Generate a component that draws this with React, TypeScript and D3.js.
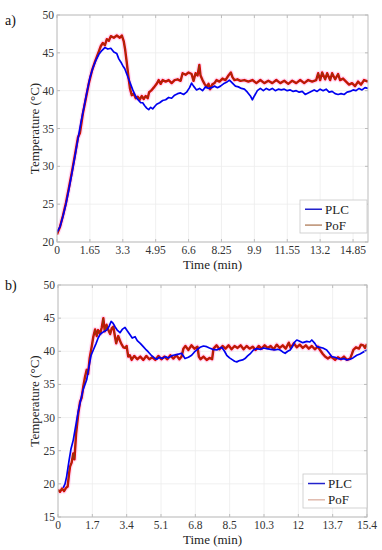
import React from "react";
import * as d3 from "d3";

type P = [number, number];

// Panel a) data (time in min, temperature in °C)
const plcA: P[] = [[0,21.3],[0.15,22.0],[0.3,23.4],[0.45,25.0],[0.6,27.0],[0.75,29.1],[0.9,31.3],[1.05,33.6],[1.2,35.8],[1.35,37.8],[1.5,39.8],[1.65,41.7],[1.8,43.0],[1.95,44.0],[2.1,44.8],[2.25,45.3],[2.4,45.7],[2.55,45.5],[2.7,45.6],[2.85,45.1],[3.0,44.9],[3.1,44.2],[3.2,43.8],[3.3,43.3],[3.4,42.9],[3.5,42.2],[3.6,41.5],[3.7,40.8],[3.8,40.1],[3.9,39.5],[4.0,39.0],[4.1,38.7],[4.2,38.4],[4.3,38.4],[4.4,38.0],[4.5,37.7],[4.6,37.5],[4.7,37.8],[4.8,37.6],[4.9,37.9],[5.0,38.2],[5.15,38.4],[5.3,38.7],[5.45,38.8],[5.6,39.1],[5.75,39.0],[5.9,39.4],[6.05,39.6],[6.2,39.7],[6.35,39.5],[6.5,39.8],[6.65,40.4],[6.75,41.0],[6.85,40.6],[7.0,40.1],[7.15,40.3],[7.3,40.0],[7.45,40.5],[7.6,40.3],[7.75,40.4],[7.9,40.6],[8.05,40.4],[8.2,40.6],[8.35,40.9],[8.5,41.1],[8.65,41.4],[8.8,41.0],[8.95,40.6],[9.1,40.5],[9.25,40.3],[9.4,40.2],[9.55,39.8],[9.7,39.3],[9.8,38.8],[9.9,39.3],[10.05,40.0],[10.2,40.3],[10.35,40.0],[10.5,40.3],[10.65,40.1],[10.8,40.3],[10.95,40.0],[11.1,40.2],[11.25,40.1],[11.4,40.2],[11.55,40.0],[11.7,40.1],[11.85,39.9],[12.0,40.0],[12.15,39.8],[12.3,39.9],[12.45,39.5],[12.6,39.7],[12.75,39.9],[12.9,40.1],[13.05,39.9],[13.2,40.2],[13.35,40.0],[13.5,40.2],[13.65,39.8],[13.8,39.9],[13.95,39.6],[14.1,39.5],[14.25,39.6],[14.4,39.5],[14.55,39.8],[14.7,39.9],[14.85,40.1],[15.0,40.0],[15.15,40.3],[15.3,40.1],[15.45,40.4],[15.6,40.3]];

const pofA: P[] = [[0,21.0],[0.15,22.0],[0.3,23.5],[0.45,25.2],[0.6,27.2],[0.75,29.3],[0.9,31.5],[1.05,33.8],[1.15,34.4],[1.3,37.0],[1.45,39.0],[1.6,41.0],[1.75,42.6],[1.9,43.8],[2.0,44.5],[2.1,45.2],[2.2,45.9],[2.3,46.3],[2.4,46.0],[2.5,46.8],[2.6,46.6],[2.7,47.2],[2.85,47.0],[3.0,47.3],[3.15,47.0],[3.25,47.3],[3.35,46.5],[3.42,45.4],[3.5,43.7],[3.58,41.9],[3.66,40.3],[3.75,39.4],[3.85,39.6],[3.95,39.0],[4.05,39.2],[4.15,38.8],[4.25,39.3],[4.35,38.9],[4.45,39.3],[4.55,39.0],[4.62,39.8],[4.72,40.0],[4.85,40.4],[5.0,40.9],[5.1,41.4],[5.2,40.9],[5.3,41.4],[5.45,41.2],[5.6,41.4],[5.75,41.0],[5.9,41.4],[6.05,41.5],[6.2,41.3],[6.3,42.3],[6.45,42.1],[6.6,42.4],[6.75,42.2],[6.85,41.3],[6.95,42.3],[7.05,42.0],[7.14,43.4],[7.2,42.0],[7.3,41.4],[7.4,40.9],[7.5,40.5],[7.6,40.9],[7.68,40.2],[7.78,40.8],[7.9,41.0],[8.0,41.4],[8.15,41.2],[8.3,41.6],[8.45,41.4],[8.6,42.0],[8.72,42.4],[8.8,41.8],[8.9,41.4],[9.05,41.5],[9.2,41.3],[9.4,41.4],[9.6,41.2],[9.8,41.4],[10.0,41.0],[10.2,41.4],[10.4,41.0],[10.6,41.3],[10.8,41.0],[11.0,41.4],[11.2,41.0],[11.4,41.3],[11.6,40.9],[11.8,41.3],[12.0,41.0],[12.2,41.4],[12.4,41.0],[12.6,41.4],[12.8,41.2],[13.0,41.4],[13.1,42.3],[13.2,41.4],[13.3,42.4],[13.45,41.5],[13.55,42.3],[13.7,41.4],[13.8,42.3],[13.95,41.5],[14.1,42.2],[14.2,41.4],[14.35,41.6],[14.5,41.2],[14.65,40.8],[14.8,41.0],[14.95,40.6],[15.1,41.2],[15.25,40.8],[15.4,41.4],[15.6,41.2]];

// Panel b) data
const plcB: P[] = [[0.26,19.4],[0.35,20.0],[0.43,21.1],[0.55,23.5],[0.65,25.3],[0.76,26.6],[0.9,29.0],[1.0,30.8],[1.1,32.2],[1.25,34.2],[1.43,35.7],[1.55,37.8],[1.65,39.4],[1.76,40.2],[1.9,41.2],[2.0,42.0],[2.09,42.5],[2.2,42.8],[2.3,43.0],[2.43,43.2],[2.55,43.8],[2.65,44.5],[2.75,44.2],[2.84,43.7],[2.95,43.2],[3.09,42.8],[3.2,43.3],[3.34,43.6],[3.45,43.1],[3.59,42.5],[3.7,42.0],[3.84,42.2],[3.95,41.6],[4.1,41.2],[4.25,40.7],[4.4,40.2],[4.5,39.9],[4.65,39.4],[4.8,39.0],[4.92,38.8],[5.05,39.1],[5.2,38.9],[5.35,39.2],[5.5,39.0],[5.65,39.3],[5.75,39.4],[5.9,39.5],[6.05,39.6],[6.16,39.7],[6.33,38.9],[6.5,39.1],[6.66,39.4],[6.8,39.9],[6.95,40.3],[7.08,40.6],[7.25,40.8],[7.41,40.7],[7.55,40.5],[7.7,40.3],[7.91,40.2],[8.05,40.4],[8.16,40.6],[8.3,40.0],[8.41,39.4],[8.55,39.0],[8.7,38.7],[8.8,38.5],[8.91,38.4],[9.05,38.6],[9.2,38.7],[9.32,38.9],[9.45,39.3],[9.6,39.7],[9.74,40.2],[9.9,40.4],[10.1,40.3],[10.25,40.5],[10.4,40.4],[10.6,40.3],[10.8,40.2],[10.95,40.3],[11.07,40.2],[11.2,39.9],[11.32,39.7],[11.45,40.0],[11.57,40.2],[11.7,40.8],[11.8,41.4],[11.9,41.7],[12.05,41.5],[12.2,41.3],[12.4,41.5],[12.55,41.4],[12.65,41.7],[12.8,41.2],[12.9,40.7],[13.05,40.6],[13.2,40.5],[13.39,40.2],[13.52,39.7],[13.64,39.2],[13.8,39.1],[13.95,38.9],[14.1,38.8],[14.25,38.9],[14.39,38.7],[14.55,38.8],[14.7,39.0],[14.89,39.4],[15.05,39.6],[15.22,39.9],[15.4,40.2]];

const pofB: P[] = [[0,19.1],[0.1,18.8],[0.2,19.3],[0.3,18.9],[0.4,19.4],[0.48,19.6],[0.55,21.5],[0.6,22.6],[0.68,23.2],[0.76,24.6],[0.82,23.7],[0.9,27.5],[1.01,30.6],[1.1,32.4],[1.18,33.0],[1.26,34.7],[1.35,36.2],[1.43,37.2],[1.5,36.6],[1.58,39.0],[1.68,40.7],[1.76,42.2],[1.85,43.3],[1.93,42.3],[2.0,43.2],[2.1,42.6],[2.18,43.6],[2.26,45.0],[2.33,43.0],[2.42,44.0],[2.51,43.2],[2.6,42.6],[2.68,43.5],[2.76,43.7],[2.84,42.2],[2.9,41.2],[3.0,42.3],[3.1,41.5],[3.18,41.0],[3.26,40.6],[3.34,40.5],[3.42,40.8],[3.5,39.2],[3.58,39.4],[3.67,38.7],[3.8,39.3],[3.95,38.8],[4.1,39.2],[4.25,38.7],[4.4,39.3],[4.55,38.8],[4.7,39.1],[4.85,38.7],[5.0,39.3],[5.15,38.8],[5.3,39.2],[5.45,38.8],[5.6,39.4],[5.75,38.9],[5.9,39.4],[6.05,38.8],[6.16,39.2],[6.25,40.4],[6.35,40.8],[6.5,40.2],[6.65,40.9],[6.8,40.4],[6.95,40.7],[7.02,39.2],[7.1,38.8],[7.25,39.2],[7.41,38.7],[7.55,39.0],[7.68,38.8],[7.75,40.4],[7.9,40.9],[8.05,40.3],[8.2,40.8],[8.35,40.4],[8.5,40.9],[8.65,40.3],[8.8,40.8],[8.95,40.5],[9.1,40.9],[9.25,40.3],[9.4,40.8],[9.55,40.4],[9.7,40.7],[9.85,40.2],[10.0,40.8],[10.15,40.4],[10.3,40.9],[10.45,40.5],[10.6,40.8],[10.75,40.3],[10.9,41.0],[11.05,40.5],[11.2,40.9],[11.35,40.4],[11.5,41.3],[11.6,40.5],[11.75,41.2],[11.9,40.6],[12.05,41.0],[12.2,40.5],[12.35,40.9],[12.5,40.4],[12.65,40.8],[12.8,40.3],[12.95,40.7],[13.06,40.2],[13.2,39.6],[13.31,39.2],[13.45,38.9],[13.6,39.2],[13.81,38.7],[13.95,39.1],[14.1,38.8],[14.25,39.2],[14.4,38.7],[14.56,38.9],[14.65,39.6],[14.72,40.2],[14.85,40.6],[15.0,40.4],[15.1,41.0],[15.22,40.9],[15.3,40.5],[15.4,41.1]];

const xTickLabelsA = ["0", "1.65", "3.3", "4.95", "6.6", "8.25", "9.9", "11.55", "13.2", "14.85"];
const xTickValuesA = [0, 1.65, 3.3, 4.95, 6.6, 8.25, 9.9, 11.55, 13.2, 14.85];
const xTickLabelsB = ["0", "1.7", "3.4", "5.1", "6.8", "8.5", "10.3", "12", "13.7", "15.4"];
const yTicksA = [20, 25, 30, 35, 40, 45, 50];
const yTicksB = [15, 20, 25, 30, 35, 40, 45, 50];
const seriesNames = ["PLC", "PoF"];

const FONT = "'Liberation Serif', serif";

interface PanelProps {
  tag: string;
  left: number; right: number; top: number; bottom: number;
  xDomain: [number, number]; yDomain: [number, number];
  xTickValues: number[]; xTickLabels: string[]; yTicks: number[];
  plc: P[]; pof: P[];
  legend: { x: number; y: number; w: number; h: number; pofColor: string };
  tagY: number;
}

function Panel(p: PanelProps) {
  const x = d3.scaleLinear().domain(p.xDomain).range([p.left, p.right]);
  const y = d3.scaleLinear().domain(p.yDomain).range([p.bottom, p.top]);
  const line = d3.line<P>().x(d => x(d[0])).y(d => y(d[1]));
  const grid = "#ececec";
  const axisCol = "#bdbdbd";
  const txt = "#333";
  const cy = (p.top + p.bottom) / 2;
  const L = p.legend;
  const clipId = "clip" + p.tag.replace(")", "");
  return (
    <g>
      <text x={5} y={p.tagY} fontFamily={FONT} fontSize={14} fill="#111">{p.tag}</text>
      {p.xTickValues.map((v, i) => (
        <line key={"gx" + i} x1={x(v)} x2={x(v)} y1={p.top} y2={p.bottom} stroke={grid} strokeWidth={0.8} />
      ))}
      {p.yTicks.map((v, i) => (
        <line key={"gy" + i} x1={p.left} x2={p.right} y1={y(v)} y2={y(v)} stroke={grid} strokeWidth={0.8} />
      ))}
      <defs>
        <clipPath id={clipId}>
          <rect x={p.left} y={p.top} width={p.right - p.left} height={p.bottom - p.top} />
        </clipPath>
      </defs>
      <g clipPath={`url(#${clipId})`}>
        <path d={line(p.pof) || ""} fill="none" stroke="#ff9ce0" strokeWidth={5} strokeOpacity={0.35} strokeLinejoin="round" />
        <path d={line(p.pof) || ""} fill="none" stroke="#e10000" strokeWidth={2.4} strokeLinejoin="round" />
        <path d={line(p.pof) || ""} fill="none" stroke="#7a4a10" strokeWidth={0.8} strokeLinejoin="round" />
        <path d={line(p.plc) || ""} fill="none" stroke="#0000f0" strokeWidth={1.7} strokeLinejoin="round" />
      </g>
      <rect x={p.left} y={p.top} width={p.right - p.left} height={p.bottom - p.top} fill="none" stroke={axisCol} strokeWidth={1} />
      {p.xTickValues.map((v, i) => (
        <g key={"xt" + i}>
          <line x1={x(v)} x2={x(v)} y1={p.bottom} y2={p.bottom - 3} stroke={axisCol} />
          <line x1={x(v)} x2={x(v)} y1={p.top} y2={p.top + 3} stroke={axisCol} />
          <text x={x(v)} y={p.bottom + 12} textAnchor="middle" fontFamily={FONT} fontSize={11.5} fill={txt}>{p.xTickLabels[i]}</text>
        </g>
      ))}
      {p.yTicks.map((v, i) => (
        <g key={"yt" + i}>
          <line x1={p.left} x2={p.left + 3} y1={y(v)} y2={y(v)} stroke={axisCol} />
          <line x1={p.right} x2={p.right - 3} y1={y(v)} y2={y(v)} stroke={axisCol} />
          <text x={p.left - 3} y={y(v) + 4} textAnchor="end" fontFamily={FONT} fontSize={11.5} fill={txt}>{v}</text>
        </g>
      ))}
      <text x={(p.left + p.right) / 2} y={p.bottom + 27} textAnchor="middle" fontFamily={FONT} fontSize={13} fill="#222">Time (min)</text>
      <text transform={`translate(39,${cy}) rotate(-90)`} textAnchor="middle" fontFamily={FONT} fontSize={13} fill="#222">Temperature (°C)</text>
      <rect x={L.x} y={L.y} width={L.w} height={L.h} fill="#fff" stroke="#c8c8c8" strokeWidth={0.8} />
      <line x1={L.x + 5} x2={L.x + 22} y1={L.y + L.h * 0.28} y2={L.y + L.h * 0.28} stroke="#2222cc" strokeWidth={1.5} />
      <text x={L.x + 25} y={L.y + L.h * 0.28 + 4.5} fontFamily={FONT} fontSize={13} fill="#222">{seriesNames[0]}</text>
      <line x1={L.x + 5} x2={L.x + 22} y1={L.y + L.h * 0.76} y2={L.y + L.h * 0.76} stroke={L.pofColor} strokeWidth={1.2} />
      <text x={L.x + 25} y={L.y + L.h * 0.76 + 4.5} fontFamily={FONT} fontSize={13} fill="#222">{seriesNames[1]}</text>
    </g>
  );
}

export default function App() {
  const xTickValuesB = xTickLabelsB.map((_, i) => (15.4 * i) / 9);
  return (
    <svg width={382} height={550} style={{ position: "absolute", left: 0, top: 0, background: "#fff" }}>
      <rect x={0} y={0} width={382} height={550} fill="#fff" />
      <Panel tag="a)" tagY={25} left={57} right={368} top={15} bottom={242}
        xDomain={[0, 15.6]} yDomain={[20, 50]}
        xTickValues={xTickValuesA} xTickLabels={xTickLabelsA} yTicks={yTicksA}
        plc={plcA} pof={pofA}
        legend={{ x: 300, y: 200, w: 67, h: 33, pofColor: "#a8704a" }} />
      <Panel tag="b)" tagY={290} left={58} right={367} top={285} bottom={517}
        xDomain={[0, 15.4]} yDomain={[15, 50]}
        xTickValues={xTickValuesB} xTickLabels={xTickLabelsB} yTicks={yTicksB}
        plc={plcB} pof={pofB}
        legend={{ x: 303, y: 474, w: 64, h: 34, pofColor: "#d8a898" }} />
    </svg>
  );
}
